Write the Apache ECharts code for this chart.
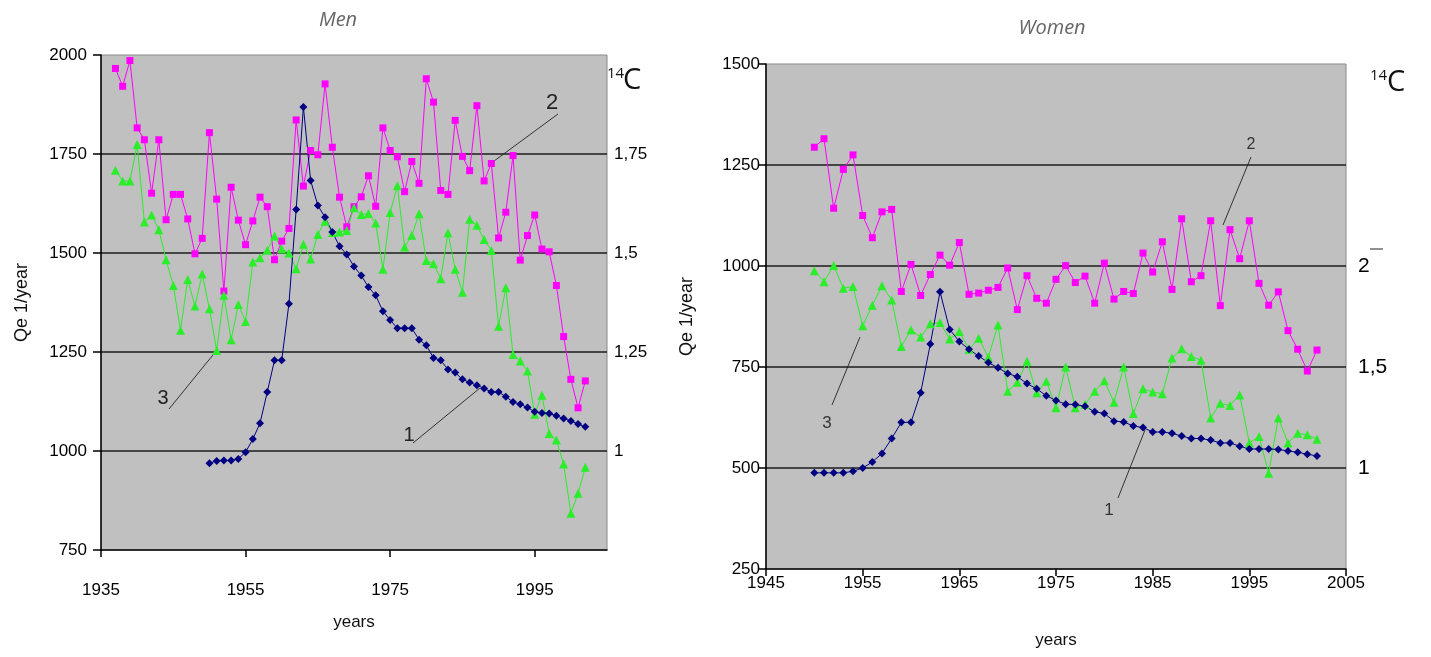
<!DOCTYPE html>
<html>
<head>
<meta charset="utf-8">
<title>Qe and 14C</title>
<script src="https://cdn.jsdelivr.net/npm/echarts@6/dist/echarts.min.js"></script>
<style>
  html, body { margin: 0; padding: 0; background: #fff; }
  #chart { width: 1431px; height: 657px; }
</style>
</head>
<body>
<div id="chart"></div>
<script>
// Men: 1937-2002
const menYears = [1937, 1938, 1939, 1940, 1941, 1942, 1943, 1944, 1945, 1946, 1947, 1948, 1949,
  1950, 1951, 1952, 1953, 1954, 1955, 1956, 1957, 1958, 1959, 1960, 1961, 1962, 1963, 1964, 1965,
  1966, 1967, 1968, 1969, 1970, 1971, 1972, 1973, 1974, 1975, 1976, 1977, 1978, 1979, 1980, 1981,
  1982, 1983, 1984, 1985, 1986, 1987, 1988, 1989, 1990, 1991, 1992, 1993, 1994, 1995, 1996, 1997,
  1998, 1999, 2000, 2001, 2002]

// curve 1 (blue diamonds)
const menQe = [null, null, null, null, null, null, null, null, null, null, null, null, null,
  969, 975, 976, 976, 980, 997, 1030, 1070, 1149, 1229, 1229, 1372, 1610, 1869, 1683, 1620,
  1590, 1553, 1517, 1496, 1466, 1443, 1414, 1393, 1353, 1331, 1310, 1310, 1310, 1281, 1267, 1235,
  1229, 1206, 1198, 1181, 1173, 1166, 1158, 1149, 1149, 1137, 1124, 1118, 1110, 1099, 1096, 1095,
  1089, 1082, 1076, 1068, 1061]

// curve 2 (magenta squares)
const menC14 = [1966, 1921, 1986, 1816, 1786, 1651, 1786, 1584, 1648, 1648, 1586, 1498, 1537,
  1804, 1636, 1404, 1666, 1583, 1521, 1581, 1641, 1617, 1483, 1530, 1562, 1836, 1669, 1759, 1748,
  1927, 1767, 1641, 1566, 1617, 1642, 1695, 1618, 1816, 1759, 1743, 1655, 1731, 1676, 1940, 1881,
  1658, 1648, 1835, 1744, 1708, 1872, 1682, 1726, 1538, 1603, 1746, 1482, 1544, 1596, 1510, 1503,
  1418, 1289, 1181, 1109, 1177]

// curve 3 (green triangles)
const menGreen = [1709, 1682, 1682, 1774, 1578, 1596, 1559, 1483, 1418, 1305, 1433, 1366, 1447,
  1359, 1254, 1393, 1281, 1370, 1327, 1477, 1488, 1507, 1543, 1510, 1500, 1460, 1522, 1485, 1547,
  1580, 1552, 1553, 1557, 1614, 1597, 1600, 1576, 1459, 1602, 1670, 1515, 1545, 1599, 1481, 1473,
  1435, 1551, 1459, 1401, 1585, 1570, 1534, 1506, 1315, 1412, 1244, 1227, 1202, 1093, 1141, 1044,
  1028, 967, 843, 893, 959]

// Women: 1950-2002
const womenYears = [1950, 1951, 1952, 1953, 1954, 1955, 1956, 1957, 1958, 1959, 1960, 1961, 1962,
  1963, 1964, 1965, 1966, 1967, 1968, 1969, 1970, 1971, 1972, 1973, 1974, 1975, 1976, 1977, 1978,
  1979, 1980, 1981, 1982, 1983, 1984, 1985, 1986, 1987, 1988, 1989, 1990, 1991, 1992, 1993, 1994,
  1995, 1996, 1997, 1998, 1999, 2000, 2001, 2002]

const womenQe = [488, 488, 488, 488, 492, 500, 515, 536, 573, 613, 613, 686, 807,
  936, 843, 813, 794, 777, 761, 748, 734, 726, 709, 696, 679, 667, 658, 657, 653,
  639, 635, 616, 614, 604, 600, 589, 589, 586, 579, 573, 573, 569, 562, 562, 554,
  547, 547, 547, 546, 542, 539, 534, 530]

const womenC14 = [1294, 1315, 1143, 1239, 1275, 1125, 1070, 1134, 1140, 937, 1004, 927, 979,
  1027, 1002, 1058, 930, 933, 940, 947, 995, 892, 976, 920, 908, 967, 1001, 959, 975,
  908, 1007, 918, 937, 932, 1032, 985, 1060, 942, 1117, 961, 976, 1112, 902, 1090, 1018,
  1112, 957, 903, 936, 840, 794, 740, 792]

const womenGreen = [988, 961, 1001, 945, 949, 852, 903, 951, 916, 801, 842, 824, 857,
  860, 819, 838, 794, 821, 774, 854, 690, 712, 764, 686, 715, 649, 750, 649, 657,
  690, 716, 663, 750, 635, 696, 688, 684, 772, 795, 776, 767, 624, 660, 655, 681,
  562, 578, 487, 624, 562, 586, 582, 571]

const pairs = (xs, ys) => xs.map((x, i) => [x, ys[i]])

const MAGENTA = '#ff00ff'
const GREEN = '#2aee2a'
const NAVY = '#000080'
const LABEL_FONT = 'Liberation Sans, Arial, sans-serif'
const plain = v => String(v)

const chart = echarts.init(document.getElementById('chart'))

const baseX = {
  type: 'value',
  axisLine: { show: true, onZero: false, lineStyle: { color: '#000', width: 1.5 } },
  axisTick: { show: true, length: 7, lineStyle: { color: '#000', width: 1.5 } },
  splitLine: { show: false },
  nameLocation: 'middle',
  nameTextStyle: { fontSize: 17, color: '#111', fontFamily: LABEL_FONT }
}

const baseY = {
  type: 'value',
  axisLine: { show: true, lineStyle: { color: '#000', width: 1.5 } },
  axisTick: { show: true, length: 8, lineStyle: { color: '#000', width: 1.5 } },
  splitLine: {
    show: true,
    showMinLine: false,
    showMaxLine: false,
    lineStyle: { color: '#1c1c1c', width: 1.5 }
  },
  name: 'Qe 1/year',
  nameLocation: 'middle',
  nameGap: 70,
  nameTextStyle: { fontSize: 18, color: '#111', fontFamily: LABEL_FONT }
}

const rightY = {
  type: 'value',
  position: 'right',
  axisLine: { show: false },
  axisTick: { show: false },
  splitLine: { show: false }
}

const option = {
  animation: false,
  backgroundColor: '#fff',
  textStyle: { fontFamily: LABEL_FONT },
  grid: [
    { left: 101, top: 55, width: 506, height: 495, show: true,
      backgroundColor: '#c0c0c0', borderColor: '#8a8a8a', borderWidth: 1 },
    { left: 766, top: 64, width: 580, height: 505, show: true,
      backgroundColor: '#c0c0c0', borderColor: '#8a8a8a', borderWidth: 1 }
  ],
  xAxis: [
    Object.assign({}, baseX, {
      gridIndex: 0, min: 1935, max: 2005, interval: 20,
      name: 'years', nameGap: 64,
      axisLabel: { fontSize: 17, color: '#000', margin: 32, showMaxLabel: false, formatter: plain }
    }),
    Object.assign({}, baseX, {
      gridIndex: 1, min: 1945, max: 2005, interval: 10,
      name: 'years', nameGap: 63,
      axisLabel: { fontSize: 17, color: '#000', margin: 6, formatter: plain }
    })
  ],
  yAxis: [
    Object.assign({}, baseY, {
      gridIndex: 0, min: 750, max: 2000, interval: 250,
      axisLabel: { fontSize: 17, color: '#000', margin: 14, formatter: plain }
    }),
    Object.assign({}, rightY, {
      gridIndex: 0, min: 0.75, max: 2, interval: 0.25,
      axisLabel: {
        fontSize: 17, color: '#000', margin: 7,
        formatter: v => (v < 0.8 || v > 1.9) ? '' : String(v).replace('.', ',')
      }
    }),
    Object.assign({}, baseY, {
      gridIndex: 1, min: 250, max: 1500, interval: 250,
      axisLabel: { fontSize: 17, color: '#000', margin: 6, formatter: plain }
    }),
    Object.assign({}, rightY, {
      gridIndex: 1, min: 0.5, max: 3, interval: 0.5,
      axisLabel: {
        fontSize: 21, color: '#000', margin: 12,
        formatter: v => (v < 0.9 || v > 2.1) ? '' : String(v).replace('.', ',')
      }
    })
  ],
  series: [
    {
      name: '2', type: 'line', xAxisIndex: 0, yAxisIndex: 0,
      data: pairs(menYears, menC14),
      symbol: 'rect', symbolSize: 7,
      itemStyle: { color: MAGENTA }, lineStyle: { color: MAGENTA, width: 1 }
    },
    {
      name: '3', type: 'line', xAxisIndex: 0, yAxisIndex: 0,
      data: pairs(menYears, menGreen),
      symbol: 'triangle', symbolSize: 9,
      itemStyle: { color: GREEN }, lineStyle: { color: GREEN, width: 1 }
    },
    {
      name: '1', type: 'line', xAxisIndex: 0, yAxisIndex: 0,
      data: pairs(menYears, menQe),
      symbol: 'diamond', symbolSize: 8,
      itemStyle: { color: NAVY }, lineStyle: { color: NAVY, width: 1 }
    },
    {
      name: '2w', type: 'line', xAxisIndex: 1, yAxisIndex: 2,
      data: pairs(womenYears, womenC14),
      symbol: 'rect', symbolSize: 7,
      itemStyle: { color: MAGENTA }, lineStyle: { color: MAGENTA, width: 1 }
    },
    {
      name: '3w', type: 'line', xAxisIndex: 1, yAxisIndex: 2,
      data: pairs(womenYears, womenGreen),
      symbol: 'triangle', symbolSize: 9,
      itemStyle: { color: GREEN }, lineStyle: { color: GREEN, width: 1 }
    },
    {
      name: '1w', type: 'line', xAxisIndex: 1, yAxisIndex: 2,
      data: pairs(womenYears, womenQe),
      symbol: 'diamond', symbolSize: 8,
      itemStyle: { color: NAVY }, lineStyle: { color: NAVY, width: 1 }
    }
  ],
  graphic: [
    // titles
    { type: 'text', x: 338, y: 10, style: { text: 'Men', fontSize: 20, fontStyle: 'italic',
      fontFamily: 'Open Sans, sans-serif', fill: '#666', align: 'center' } },
    { type: 'text', x: 1052, y: 18, style: { text: 'Women', fontSize: 20, fontStyle: 'italic',
      fontFamily: 'Open Sans, sans-serif', fill: '#666', align: 'center' } },
    // 14C labels
    { type: 'text', x: 607, y: 66, style: { text: '14', fontSize: 15, fill: '#111', fontFamily: 'Open Sans, sans-serif' } },
    { type: 'text', x: 623, y: 66, style: { text: 'C', fontSize: 29, fill: '#111', fontFamily: 'Open Sans, sans-serif' } },
    { type: 'text', x: 1370, y: 68, style: { text: '14', fontSize: 15, fill: '#111', fontFamily: 'Open Sans, sans-serif' } },
    { type: 'text', x: 1387, y: 68, style: { text: 'C', fontSize: 29, fill: '#111', fontFamily: 'Open Sans, sans-serif' } },
    { type: 'line', shape: { x1: 1370, y1: 249, x2: 1383, y2: 249 }, style: { stroke: '#222', lineWidth: 1 } },
    // curve labels, men
    { type: 'line', shape: { x1: 558, y1: 114, x2: 490, y2: 164 }, style: { stroke: '#333', lineWidth: 1 } },
    { type: 'text', x: 552, y: 103, style: { text: '2', fontSize: 22, fill: '#222', align: 'center', verticalAlign: 'middle' } },
    { type: 'line', shape: { x1: 169, y1: 409, x2: 217, y2: 350 }, style: { stroke: '#333', lineWidth: 1 } },
    { type: 'text', x: 163, y: 398, style: { text: '3', fontSize: 20, fill: '#222', align: 'center', verticalAlign: 'middle' } },
    { type: 'line', shape: { x1: 413, y1: 443, x2: 480, y2: 388 }, style: { stroke: '#333', lineWidth: 1 } },
    { type: 'text', x: 409, y: 435, style: { text: '1', fontSize: 20, fill: '#222', align: 'center', verticalAlign: 'middle' } },
    // curve labels, women
    { type: 'line', shape: { x1: 1251, y1: 157, x2: 1223, y2: 225 }, style: { stroke: '#333', lineWidth: 1 } },
    { type: 'text', x: 1251, y: 145, style: { text: '2', fontSize: 16, fill: '#333', align: 'center', verticalAlign: 'middle' } },
    { type: 'line', shape: { x1: 832, y1: 405, x2: 860, y2: 337 }, style: { stroke: '#333', lineWidth: 1 } },
    { type: 'text', x: 827, y: 423, style: { text: '3', fontSize: 17, fill: '#333', align: 'center', verticalAlign: 'middle' } },
    { type: 'line', shape: { x1: 1118, y1: 498, x2: 1145, y2: 430 }, style: { stroke: '#333', lineWidth: 1 } },
    { type: 'text', x: 1109, y: 510, style: { text: '1', fontSize: 17, fill: '#333', align: 'center', verticalAlign: 'middle' } }
  ]
}

chart.setOption(option)
</script>
</body>
</html>
